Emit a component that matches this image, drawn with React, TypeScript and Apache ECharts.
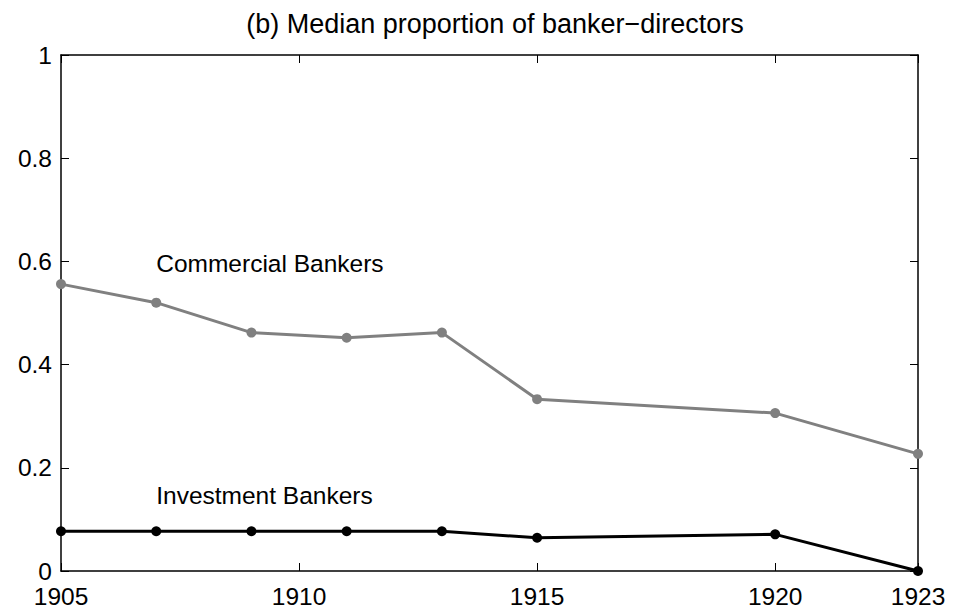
import React, { useEffect, useRef } from "react";
import * as echarts from "echarts";

const years = [1905, 1907, 1909, 1911, 1913, 1915, 1920, 1923];
const commercial = [0.556, 0.52, 0.462, 0.452, 0.462, 0.333, 0.306, 0.227];
const investment = [0.077, 0.077, 0.077, 0.077, 0.077, 0.0645, 0.071, 0];
const xTicks = [1905, 1910, 1915, 1920, 1923];
const titleText = "(b) Median proportion of banker\u2212directors";
const commercialLabel = "Commercial Bankers";
const investmentLabel = "Investment Bankers";
const commercialLabelAt = [1907, 0.595];
const investmentLabelAt = [1907, 0.147];

const FONT = "'Liberation Sans', Arial, Helvetica, sans-serif";
const FS = 24.5;

export default function App() {
  const ref = useRef<HTMLDivElement>(null);
  useEffect(() => {
    if (!ref.current) return;
    const chart = echarts.init(ref.current, undefined, { renderer: "svg" });
    const axisLine = { show: true, onZero: false, lineStyle: { color: "#000", width: 1.5 } };
    const xCommon = {
      type: "value" as const,
      min: 1905,
      max: 1923,
      splitLine: { show: false },
      axisLine,
    };
    const yCommon = {
      type: "value" as const,
      min: 0,
      max: 1,
      interval: 0.2,
      splitLine: { show: false },
      axisLine,
    };
    chart.setOption({
      animation: false,
      backgroundColor: "#fff",
      textStyle: { fontFamily: FONT },
      title: {
        text: titleText,
        left: 490,
        textAlign: "center",
        top: 5,
        textStyle: { fontSize: 27, fontWeight: "normal", color: "#000", fontFamily: FONT },
      },
      grid: { left: 61, right: 35, top: 55, bottom: 43, containLabel: false },
      xAxis: [
        {
          ...xCommon,
          position: "bottom",
          axisTick: { show: true, inside: true, length: 8, customValues: xTicks, lineStyle: { color: "#000", width: 1 } },
          axisLabel: {
            show: true,
            customValues: xTicks,
            fontSize: FS,
            lineHeight: 20,
            color: "#000",
            fontFamily: FONT,
            margin: 15,
            formatter: (v: number) => String(v),
          },
        },
        {
          ...xCommon,
          position: "top",
          axisTick: { show: true, inside: true, length: 8, customValues: xTicks, lineStyle: { color: "#000", width: 1 } },
          axisLabel: { show: false },
        },
      ],
      yAxis: [
        {
          ...yCommon,
          position: "left",
          axisTick: { show: true, inside: true, length: 8, lineStyle: { color: "#000", width: 1 } },
          axisLabel: {
            show: true,
            fontSize: FS,
            lineHeight: 20,
            color: "#000",
            fontFamily: FONT,
            margin: 9,
            formatter: (v: number) => String(+v.toFixed(1)),
          },
        },
        {
          ...yCommon,
          position: "right",
          axisTick: { show: true, inside: true, length: 8, lineStyle: { color: "#000", width: 1 } },
          axisLabel: { show: false },
        },
      ],
      series: [
        {
          type: "line",
          name: commercialLabel,
          data: years.map((y, i) => [y, commercial[i]]),
          xAxisIndex: 0,
          yAxisIndex: 0,
          clip: false,
          symbol: "circle",
          symbolSize: 10,
          lineStyle: { color: "#808080", width: 3 },
          itemStyle: { color: "#808080" },
          markPoint: {
            symbol: "circle",
            symbolSize: 0,
            data: [{ coord: commercialLabelAt, value: commercialLabel }],
            label: {
              show: true,
              position: "right",
              distance: 0,
              formatter: commercialLabel,
              fontSize: FS,
              color: "#000",
              fontFamily: FONT,
            },
          },
        },
        {
          type: "line",
          name: investmentLabel,
          data: years.map((y, i) => [y, investment[i]]),
          xAxisIndex: 0,
          yAxisIndex: 0,
          clip: false,
          symbol: "circle",
          symbolSize: 10,
          lineStyle: { color: "#000", width: 3 },
          itemStyle: { color: "#000" },
          markPoint: {
            symbol: "circle",
            symbolSize: 0,
            data: [{ coord: investmentLabelAt, value: investmentLabel }],
            label: {
              show: true,
              position: "right",
              distance: 0,
              formatter: investmentLabel,
              fontSize: FS,
              color: "#000",
              fontFamily: FONT,
            },
          },
        },
      ],
    });
    return () => chart.dispose();
  }, []);
  return (
    <div
      ref={ref}
      style={{ position: "fixed", left: 0, top: 0, width: 953, height: 614, background: "#fff" }}
    />
  );
}
